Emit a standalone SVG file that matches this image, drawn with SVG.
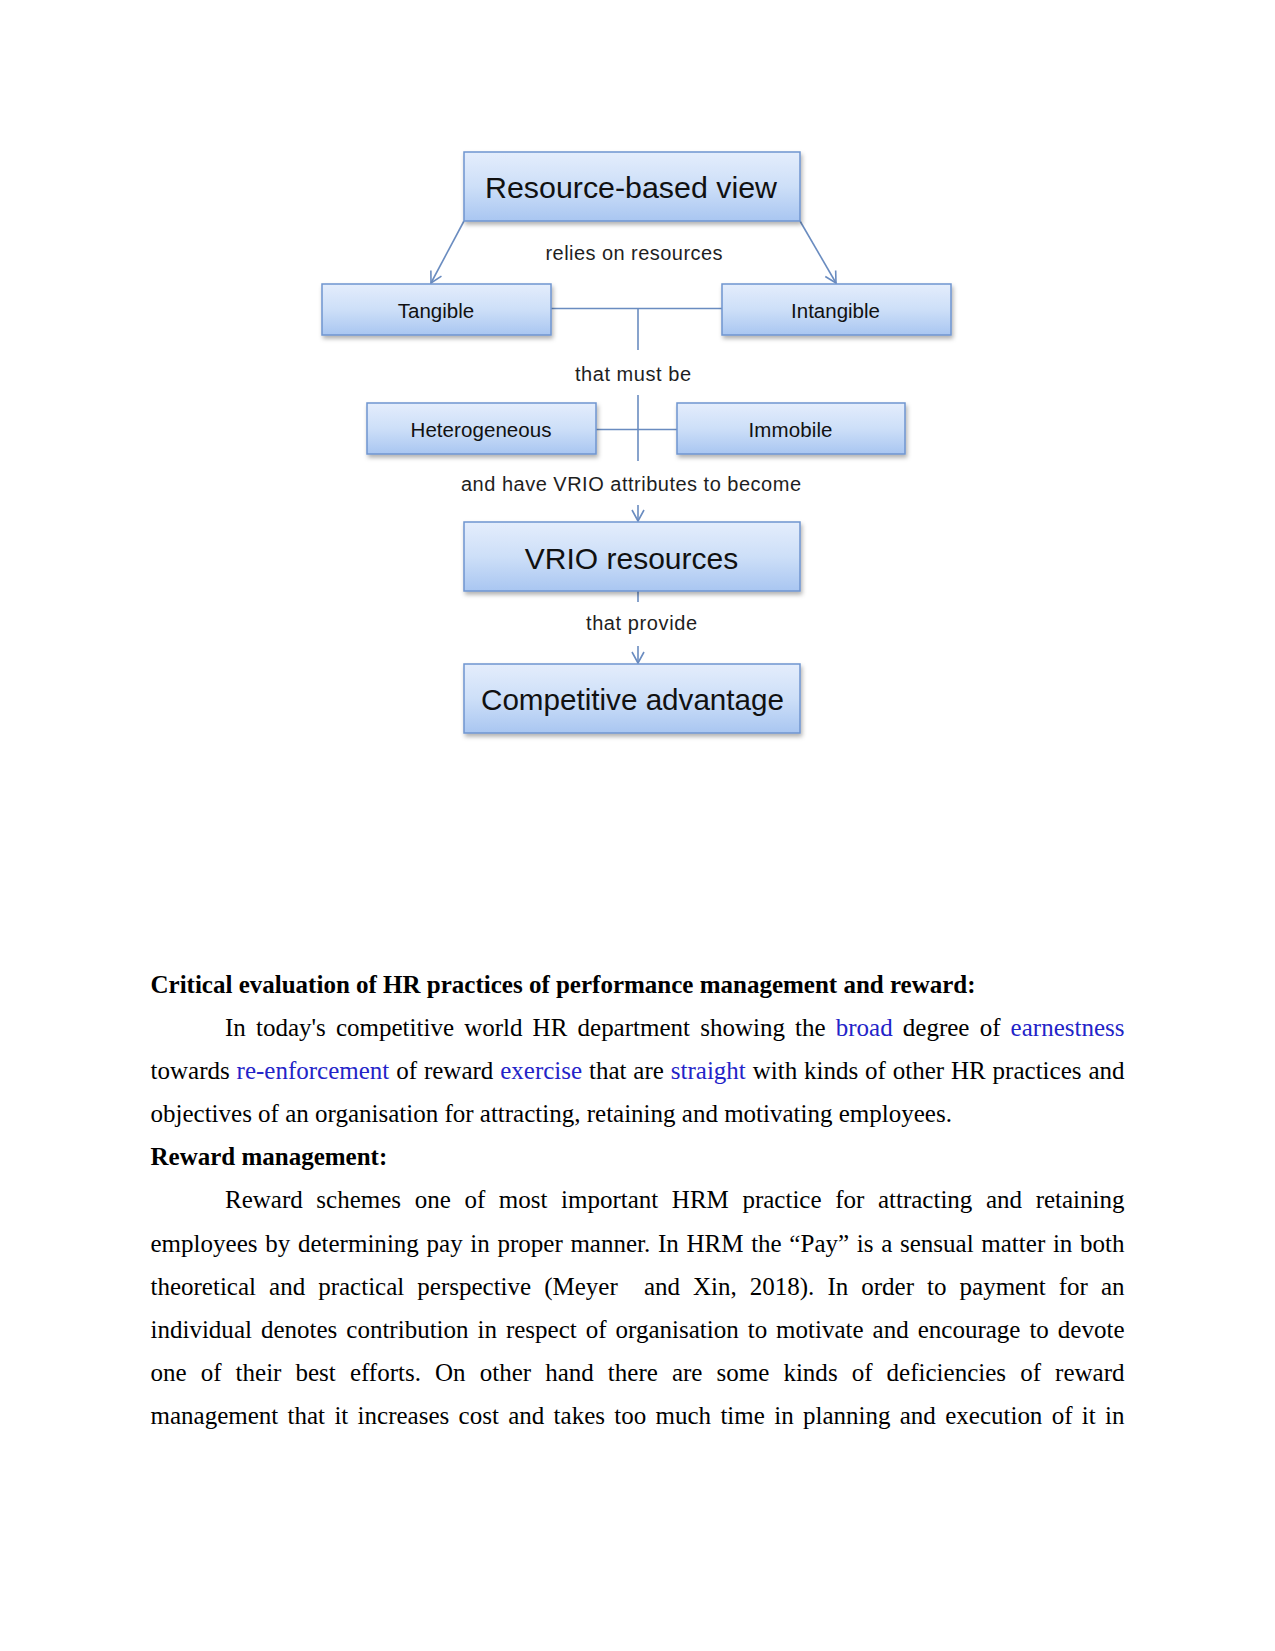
<svg xmlns="http://www.w3.org/2000/svg" width="1275" height="1651" viewBox="0 0 1275 1651">
<style>
.box{fill:url(#g);stroke:#6f95cf;stroke-width:1.5;filter:url(#sh)}
.nt{font-family:"Liberation Sans",Arial,sans-serif;fill:#111;text-anchor:middle}
.big{font-size:30px}
.mid{font-size:20.5px}
.lbl{font-family:"Liberation Sans",Arial,sans-serif;font-size:20px;fill:#1e1e1e;text-anchor:middle}
.con{stroke:#6a8cc0;stroke-width:1.6;fill:none}
.body{font-family:"Liberation Serif","Times New Roman",serif;font-size:25px;fill:#000}
.b{font-weight:bold}
.bl{fill:#2323c8}
</style>
<defs>
<linearGradient id="g" x1="0" y1="0" x2="0" y2="1">
<stop offset="0" stop-color="#e4edfc"/>
<stop offset="0.5" stop-color="#cddff8"/>
<stop offset="1" stop-color="#a9c6f1"/>
</linearGradient>
<filter id="sh" x="-10%" y="-20%" width="120%" height="150%">
<feDropShadow dx="1.5" dy="3" stdDeviation="2" flood-color="#000" flood-opacity="0.3"/>
</filter>
<marker id="ah" markerUnits="userSpaceOnUse" markerWidth="18" markerHeight="18" refX="12" refY="7" orient="auto">
<path d="M1,1 L12,7 L1,13" fill="none" stroke="#6a8cc0" stroke-width="1.6"/>
</marker>
</defs>

<g id="connectors">
<line class="con" x1="464" y1="221" x2="431" y2="283" marker-end="url(#ah)"/>
<line class="con" x1="800" y1="221" x2="836" y2="283" marker-end="url(#ah)"/>
<line class="con" x1="551" y1="308.5" x2="722" y2="308.5"/>
<line class="con" x1="638" y1="308.5" x2="638" y2="350"/>
<line class="con" x1="638" y1="395" x2="638" y2="461"/>
<line class="con" x1="596" y1="429.5" x2="677" y2="429.5"/>
<line class="con" x1="638" y1="505" x2="638" y2="521" marker-end="url(#ah)"/>
<line class="con" x1="638" y1="591" x2="638" y2="602"/>
<line class="con" x1="638" y1="646" x2="638" y2="663" marker-end="url(#ah)"/>
<text class="lbl" x="634" y="260" textLength="177" lengthAdjust="spacing">relies on resources</text>
<text class="lbl" x="633" y="380.5" textLength="116" lengthAdjust="spacing">that must be</text>
<text class="lbl" x="631" y="491" textLength="340" lengthAdjust="spacing">and have VRIO attributes to become</text>
<text class="lbl" x="641.5" y="630" textLength="111" lengthAdjust="spacing">that provide</text>
</g>

<g id="node-rbv">
<rect class="box" x="464" y="152" width="336" height="69"/>
<text class="nt big" x="631" y="197.5" textLength="292" lengthAdjust="spacingAndGlyphs">Resource-based view</text>
</g>
<g id="node-tangible">
<rect class="box" x="322" y="284" width="229" height="51"/>
<text class="nt mid" x="436" y="318">Tangible</text>
</g>
<g id="node-intangible">
<rect class="box" x="722" y="284" width="229" height="51"/>
<text class="nt mid" x="835.5" y="318">Intangible</text>
</g>
<g id="node-heterogeneous">
<rect class="box" x="367" y="403" width="229" height="51"/>
<text class="nt mid" x="481" y="437" textLength="141" lengthAdjust="spacing">Heterogeneous</text>
</g>
<g id="node-immobile">
<rect class="box" x="677" y="403" width="228" height="51"/>
<text class="nt mid" x="790.5" y="437" textLength="84" lengthAdjust="spacing">Immobile</text>
</g>
<g id="node-vrio">
<rect class="box" x="464" y="522" width="336" height="69"/>
<text class="nt big" x="631.5" y="568.5">VRIO resources</text>
</g>
<g id="node-competitive">
<rect class="box" x="464" y="664" width="336" height="69"/>
<text class="nt big" x="632.5" y="709.5" textLength="303" lengthAdjust="spacingAndGlyphs">Competitive advantage</text>
</g>

<g id="body-text">
<text class="body b" x="150.5" y="993">Critical evaluation of HR practices of performance management and reward:</text>
<text class="body" x="225" y="1036" word-spacing="3.9" textLength="899.5" lengthAdjust="spacing">In today's competitive world HR department showing the <tspan class="bl">broad</tspan> degree of <tspan class="bl">earnestness</tspan></text>
<text class="body" x="150.5" y="1079" word-spacing="0.6" textLength="974" lengthAdjust="spacing">towards <tspan class="bl">re-enforcement</tspan> of reward <tspan class="bl">exercise</tspan> that are <tspan class="bl">straight</tspan> with kinds of other HR practices and</text>
<text class="body" x="150.5" y="1122">objectives of an organisation for attracting, retaining and motivating employees.</text>
<text class="body b" x="150.5" y="1165">Reward management:</text>
<text class="body" x="225" y="1208" word-spacing="7.36" textLength="899.5" lengthAdjust="spacing">Reward schemes one of most important HRM practice for attracting and retaining</text>
<text class="body" x="150.5" y="1252" word-spacing="1.37" textLength="974" lengthAdjust="spacing">employees by determining pay in proper manner. In HRM the “Pay” is a sensual matter in both</text>
<text class="body" x="150.5" y="1295" word-spacing="6.8" textLength="974" lengthAdjust="spacing" xml:space="preserve">theoretical and practical perspective (Meyer  and Xin, 2018). In order to payment for an</text>
<text class="body" x="150.5" y="1338" word-spacing="2.7" textLength="974" lengthAdjust="spacing">individual denotes contribution in respect of organisation to motivate and encourage to devote</text>
<text class="body" x="150.5" y="1381" word-spacing="7.8" textLength="974" lengthAdjust="spacing">one of their best efforts. On other hand there are some kinds of deficiencies of reward</text>
<text class="body" x="150.5" y="1424" word-spacing="3.07" textLength="974" lengthAdjust="spacing">management that it increases cost and takes too much time in planning and execution of it in</text>
</g>
</svg>
